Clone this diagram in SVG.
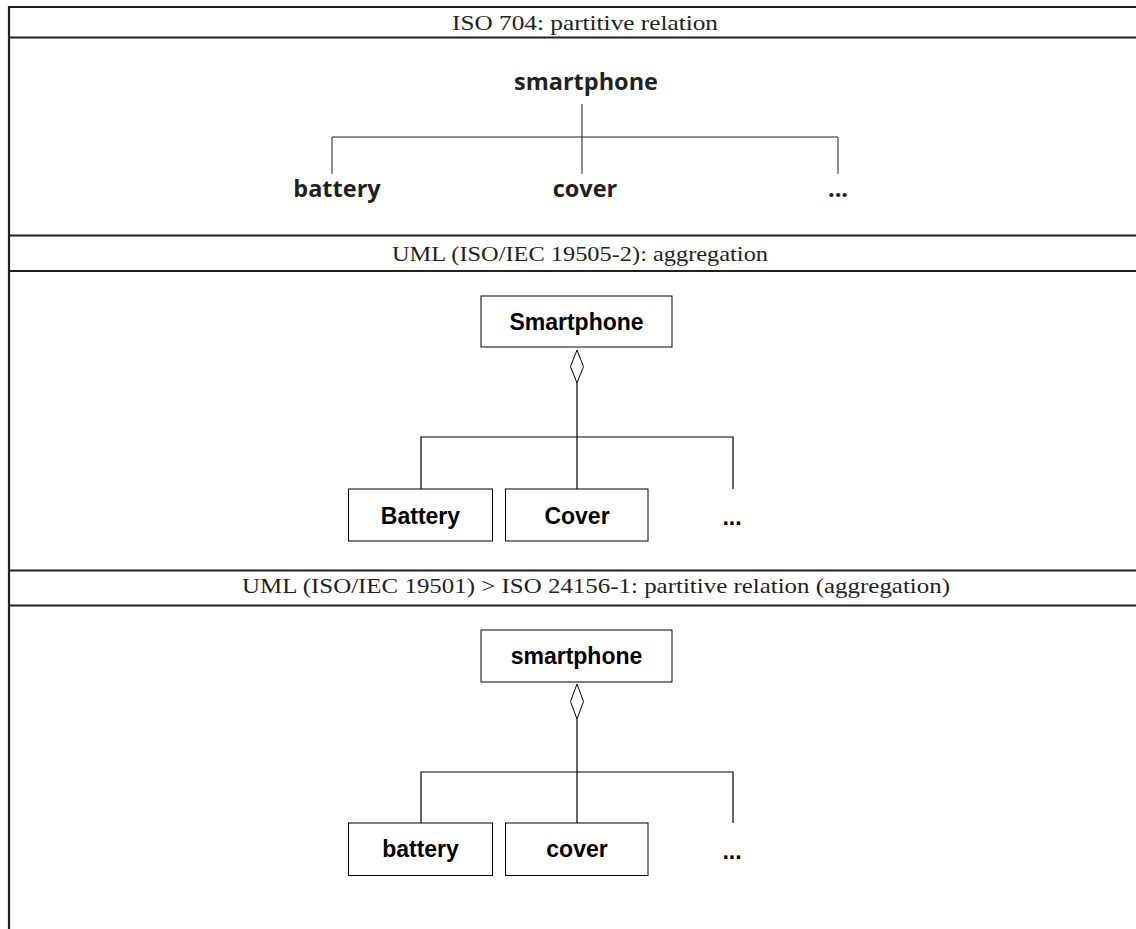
<svg xmlns="http://www.w3.org/2000/svg" width="1136" height="929" viewBox="0 0 1136 929">
<style>
.frame{stroke:#231f20;stroke-width:2.2;fill:none}
.hdr{font-family:"Liberation Serif","DejaVu Serif",serif;font-size:21px;fill:#231f20;text-anchor:middle}
.iso{font-family:"Open Sans","Noto Sans",sans-serif;font-weight:bold;font-size:23.5px;fill:#231f20;text-anchor:middle}
.uml{font-family:"Liberation Sans",Arial,sans-serif;font-weight:bold;font-size:23px;fill:#000;text-anchor:middle}
.box{fill:#fff;stroke:#000;stroke-width:1}
.ln{stroke:#231f20;stroke-width:1;fill:none}
.uln{stroke:#000;stroke-width:1.2;fill:none}
.dia{fill:#fff;stroke:#000;stroke-width:1}
</style>
<rect width="1136" height="929" fill="#fff"/>
<g id="frame">
<line class="frame" x1="9" y1="929" x2="9" y2="6"/>
<line class="frame" x1="8" y1="7" x2="1136" y2="7"/>
<line class="frame" x1="8" y1="37.5" x2="1136" y2="37.5"/>
<line class="frame" x1="8" y1="235.5" x2="1136" y2="235.5"/>
<line class="frame" x1="8" y1="271" x2="1136" y2="271"/>
<line class="frame" x1="8" y1="570.5" x2="1136" y2="570.5"/>
<line class="frame" x1="8" y1="605.5" x2="1136" y2="605.5"/>
</g>
<g id="headers">
<text class="hdr" x="585" y="30" textLength="266" lengthAdjust="spacingAndGlyphs">ISO 704: partitive relation</text>
<text class="hdr" x="580" y="261" textLength="376" lengthAdjust="spacingAndGlyphs">UML (ISO/IEC 19505-2): aggregation</text>
<text class="hdr" x="596" y="593" textLength="708" lengthAdjust="spacingAndGlyphs">UML (ISO/IEC 19501) &gt; ISO 24156-1: partitive relation (aggregation)</text>
</g>
<g id="connectors">
<path class="ln" d="M582 104V174M332 174V137H838V174"/>
<path class="uln" d="M577 383V489M421 489V437H733V489"/>
<path class="uln" d="M577 719V823M421 823V772H733V823"/>
<polygon class="dia" points="577,350 583.5,366.5 577,383 570.5,366.5"/>
<polygon class="dia" points="577,684 583.5,701.5 577,719 570.5,701.5"/>
</g>
<g id="iso-smartphone"><text class="iso" x="586" y="90">smartphone</text></g>
<g id="iso-battery"><text class="iso" x="337" y="197">battery</text></g>
<g id="iso-cover"><text class="iso" x="585" y="197">cover</text></g>
<g id="iso-more"><text class="iso" x="838" y="197">...</text></g>
<g id="uml-Smartphone"><rect class="box" x="481" y="296" width="191" height="51"/><text class="uml" x="576.5" y="330">Smartphone</text></g>
<g id="uml-Battery"><rect class="box" x="348.5" y="489" width="144" height="52"/><text class="uml" x="420.5" y="524">Battery</text></g>
<g id="uml-Cover"><rect class="box" x="505.5" y="489" width="142.5" height="52"/><text class="uml" x="577" y="524">Cover</text></g>
<g id="uml-more"><text class="uml" x="732" y="525">...</text></g>
<g id="uml2-smartphone"><rect class="box" x="481" y="630" width="191" height="52"/><text class="uml" x="576.5" y="664">smartphone</text></g>
<g id="uml2-battery"><rect class="box" x="348.5" y="823" width="144" height="52.5"/><text class="uml" x="420.5" y="857">battery</text></g>
<g id="uml2-cover"><rect class="box" x="505.5" y="823" width="142.5" height="52.5"/><text class="uml" x="577" y="857">cover</text></g>
<g id="uml2-more"><text class="uml" x="732" y="859">...</text></g>
</svg>
